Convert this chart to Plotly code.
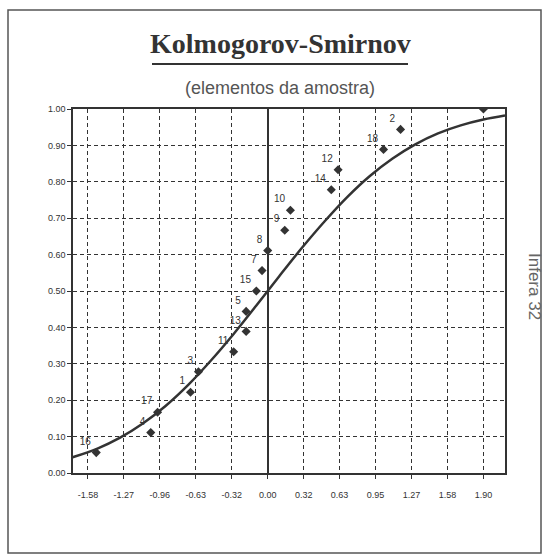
import plotly.graph_objects as go

# ---- data ----
point_labels = ["16", "4", "17", "1", "3", "11", "13", "5", "15", "7", "8", "9", "10", "14", "12", "18", "2", ""]
point_x = [-1.51, -1.03, -0.97, -0.68, -0.61, -0.30, -0.19, -0.19, -0.10, -0.05, 0.00, 0.15, 0.20, 0.56, 0.62, 1.02, 1.17, 1.90]
point_y = [0.056, 0.111, 0.167, 0.222, 0.278, 0.333, 0.389, 0.444, 0.500, 0.556, 0.611, 0.667, 0.722, 0.778, 0.833, 0.889, 0.944, 1.000]

curve_x = [-1.72, -1.5, -1.3, -1.1, -0.9, -0.7, -0.5, -0.3, -0.1, 0.1, 0.3, 0.5, 0.7, 0.9, 1.1, 1.3, 1.5, 1.7, 1.9, 2.09]
curve_y = [0.043, 0.067, 0.097, 0.136, 0.184, 0.242, 0.309, 0.382, 0.460, 0.540, 0.618, 0.691, 0.758, 0.816, 0.864, 0.903, 0.933, 0.955, 0.971, 0.982]

x_tick_vals = [-1.583, -1.267, -0.95, -0.633, -0.317, 0.0, 0.317, 0.633, 0.95, 1.267, 1.583, 1.90]
x_tick_text = ["-1.58", "-1.27", "-0.96", "-0.63", "-0.32", "0.00", "0.32", "0.63", "0.95", "1.27", "1.58", "1.90"]
y_tick_vals = [0.0, 0.1, 0.2, 0.3, 0.4, 0.5, 0.6, 0.7, 0.8, 0.9, 1.0]
y_tick_text = ["0.00", "0.10", "0.20", "0.30", "0.40", "0.50", "0.60", "0.70", "0.80", "0.90", "1.00"]

title_text = "Kolmogorov-Smirnov"
subtitle_text = "(elementos da amostra)"
side_text = "Infera 32"

INK = "#333333"

fig = go.Figure()
fig.add_trace(go.Scatter(
    x=curve_x, y=curve_y, mode="lines", line=dict(color=INK, width=2.5, shape="spline"),
    hoverinfo="skip", showlegend=False, cliponaxis=True))
fig.add_trace(go.Scatter(
    x=point_x, y=point_y, mode="markers+text", text=point_labels, textposition="top left",
    textfont=dict(family="Liberation Sans", size=10, color=INK),
    marker=dict(symbol="diamond", size=7, color=INK), showlegend=False, cliponaxis=True))

axis_common = dict(
    showline=True, mirror=True, linecolor=INK, linewidth=1.5,
    showgrid=True, gridcolor=INK, gridwidth=1, griddash="4px,3px",
    ticks="outside", ticklen=4, tickcolor=INK,
    tickfont=dict(family="Liberation Sans", size=9, color=INK),
)
fig.update_xaxes(range=[-1.715, 2.09], tickvals=x_tick_vals, ticktext=x_tick_text,
                 zeroline=True, zerolinecolor=INK, zerolinewidth=1.5, ticklabelstandoff=8,
                 **axis_common)
fig.update_yaxes(range=[0, 1], tickvals=y_tick_vals, ticktext=y_tick_text,
                 zeroline=False, **axis_common)

L, R, T, B = 73, 42, 109, 83
W, H = 547, 556
pw, ph = W - L - R, H - T - B

def px_x(p):
    return (p - L) / pw

def px_y(p):
    return (H - B - p) / ph

fig.add_annotation(text="<b>" + title_text + "</b>", xref="paper", yref="paper",
                   x=px_x(280), y=px_y(44), xanchor="center", yanchor="middle", showarrow=False,
                   font=dict(family="Liberation Serif", size=28, color="#333333"))
fig.add_annotation(text=subtitle_text, xref="paper", yref="paper",
                   x=px_x(280), y=px_y(88), xanchor="center", yanchor="middle", showarrow=False,
                   font=dict(family="Liberation Sans", size=18, color="#555555"))
fig.add_annotation(text=side_text, xref="paper", yref="paper", textangle=90,
                   x=px_x(535), y=px_y(286), xanchor="center", yanchor="middle", showarrow=False,
                   font=dict(family="Liberation Sans", size=17, color="#666666"))

# title underline
fig.add_shape(type="line", xref="paper", yref="paper", x0=px_x(152), x1=px_x(408),
              y0=px_y(64), y1=px_y(64), line=dict(color="#333333", width=2))
# outer frame
fig.add_shape(type="rect", xref="paper", yref="paper", x0=px_x(8), x1=px_x(541),
              y0=px_y(553), y1=px_y(10), line=dict(color="#555555", width=1.5))

fig.update_layout(width=W, height=H, margin=dict(l=L, r=R, t=T, b=B, autoexpand=False),
                  paper_bgcolor="white", plot_bgcolor="white")

fig.write_html("out.html", config={"displayModeBar": False},
               post_script="document.body.style.margin='0';document.body.style.overflow='hidden';")
